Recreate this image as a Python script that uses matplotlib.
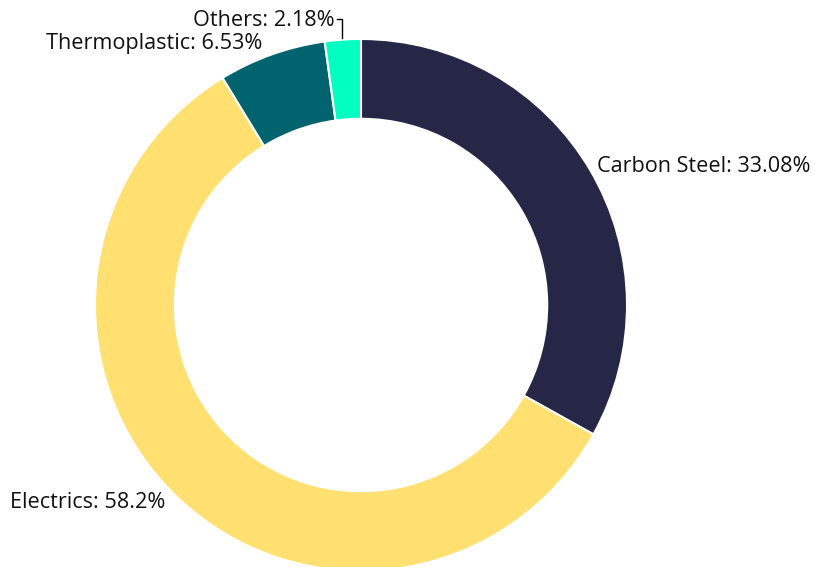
import matplotlib.pyplot as plt

labels = ["Carbon Steel", "Electrics", "Thermoplastic", "Others"]
shares = [33.08, 58.2, 6.53, 2.18]
colors = ["#262647", "#FFE070", "#00636E", "#00FFC0"]

plt.rcParams['font.family'] = ['Open Sans', 'DejaVu Sans']

fig = plt.figure(figsize=(8.15, 5.67), dpi=100)
ax = fig.add_axes([0, 0, 1, 1])

ax.pie(shares, colors=colors, startangle=90, counterclock=False,
       center=(361, 262), radius=266, frame=True,
       wedgeprops=dict(width=266 * 0.3, edgecolor="white", linewidth=1.5))
ax.set_xlim(0, 815)
ax.set_ylim(0, 567)
ax.set_aspect("equal")
ax.axis("off")

# label positions (pixels, y up)
pos = [(597, 401), (10, 65), (46, 523), (193, 547)]
for lab, val, (x, y) in zip(labels, shares, pos):
    ax.text(x, y, f"{lab}: {val:g}%", fontsize=15.6, va="center", ha="left", color="#111111")

# leader for the small slice
ax.plot([337, 342, 342], [548, 548, 529], color="black", lw=1)

fig.savefig("out.png", dpi=100)
